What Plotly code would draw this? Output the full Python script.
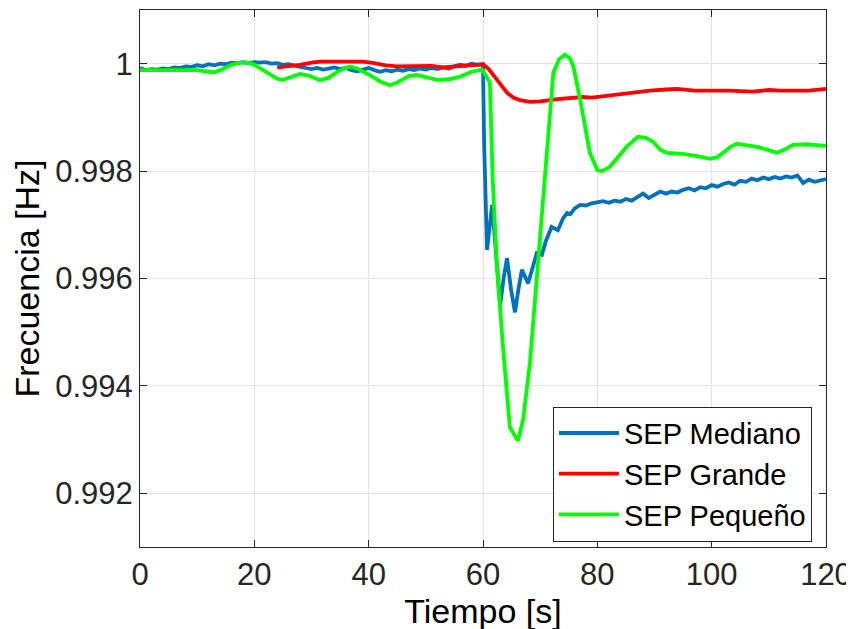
import plotly.graph_objects as go

# --- SEP Mediano (blue) ---
t_med = [0, 1, 2, 3, 4, 5, 6, 7, 8, 9, 10, 11, 12, 13, 14, 15, 16, 17, 18, 19,
         20, 21, 22, 23, 24, 25, 26, 27, 28, 29, 30, 31, 32, 33, 34, 35, 36, 37, 38, 39,
         40, 41, 42, 43, 44, 45, 46, 47, 48, 49, 50, 51, 52, 53, 54, 55, 56, 57, 58, 59,
         60, 60.2, 60.7, 61.6, 62.3, 63, 63.6, 64.2, 64.9, 65.6, 66.2, 66.8, 67.9, 68.6, 69.4,
         70.3, 71, 72, 73.1, 74, 74.7, 75.3, 76, 77, 78, 79, 80, 81, 82, 83, 84, 85, 86, 87,
         88, 89, 90, 91, 92, 93, 94, 95, 96, 97, 98, 99, 100, 101, 102, 103, 104, 105, 106,
         107, 108, 109, 110, 111, 112, 113, 114, 115, 116, 117, 118, 119, 120]
f_med = [0.99992, 0.99988, 0.99990, 0.99989, 0.99991, 0.99990, 0.99993, 0.99992, 0.99995, 0.99994,
         0.99997, 0.99995, 0.99999, 0.99997, 1.00000, 0.99999, 1.00002, 1.00001, 1.00003, 1.00001,
         1.00003, 1.00002, 1.00003, 1.00000, 1.00001, 0.99998, 0.99999, 0.99996, 0.99994, 0.99992,
         0.99990, 0.99992, 0.99989, 0.99991, 0.99993, 0.99990, 0.99992, 0.99988, 0.99986, 0.99989,
         0.99992, 0.99988, 0.99985, 0.99988, 0.99986, 0.99989, 0.99987, 0.99990, 0.99988, 0.99991,
         0.99989, 0.99992, 0.99990, 0.99993, 0.99991, 0.99995, 0.99998, 0.99996, 1.00000, 0.99998,
         0.99999, 0.99850, 0.99653, 0.99737, 0.99640, 0.99550, 0.99600, 0.99638, 0.99580, 0.99537,
         0.99580, 0.99616, 0.99591, 0.99620, 0.99647, 0.99644, 0.99670, 0.99696, 0.99690, 0.99712,
         0.99722, 0.99720, 0.99730, 0.99737, 0.99736, 0.99740, 0.99742, 0.99744, 0.99741, 0.99745,
         0.99743, 0.99748, 0.99745, 0.99752, 0.99758, 0.99750, 0.99756, 0.99762, 0.99758, 0.99762,
         0.99760, 0.99765, 0.99768, 0.99764, 0.99770, 0.99768, 0.99774, 0.99771, 0.99776, 0.99779,
         0.99775, 0.99782, 0.99780, 0.99786, 0.99783, 0.99788, 0.99785, 0.99789, 0.99786, 0.99790,
         0.99788, 0.99792, 0.99778, 0.99784, 0.99780, 0.99783, 0.99785]

# --- SEP Grande (red) ---
t_gra = [24, 26, 28, 30, 31.5, 35, 39, 41, 43, 45, 48, 51, 53, 55, 57.7, 60, 61, 62.5, 64.2,
         65.3, 66.5, 68.2, 70, 73, 75, 77.5, 79, 81, 84.5, 87, 89.2, 92, 94, 97, 99.7, 103,
         107.2, 110, 112, 115, 117, 120]
f_gra = [0.99993, 0.99995, 0.99998, 1.00002, 1.00004, 1.00004, 1.00004, 1.00001, 0.99997, 0.99995,
         0.99995, 0.99996, 0.99993, 0.99995, 0.99998, 0.99999, 0.99990, 0.99968, 0.99946, 0.99937,
         0.99932, 0.99929, 0.99930, 0.99934, 0.99936, 0.99938, 0.99937, 0.99939, 0.99944, 0.99947,
         0.99950, 0.99952, 0.99953, 0.99950, 0.99950, 0.99950, 0.99948, 0.99951, 0.99950, 0.99951,
         0.99950, 0.99953]

# --- SEP Pequeño (green) ---
t_peq = [0, 2, 4, 6, 8, 10, 12, 13, 14, 16, 17.5, 19, 20, 22, 24, 25, 26.5, 28, 29.5, 31.5,
         33, 35, 36.7, 38, 40, 42, 43.7, 45, 47, 48.4, 50, 52, 54, 56, 58, 59.8, 60.5, 61.2,
         61.7, 62.4, 63.5, 64.7, 66.1, 67, 68.2, 69.4, 71, 72.3, 73.3, 74.3, 75.2, 75.8, 77,
         78.7, 80, 80.8, 82.2, 83.7, 85.1, 87.1, 88.5, 89.7, 91, 92.2, 95, 97.5, 99.7, 101,
         102, 103.3, 104.4, 106, 107.9, 109.7, 111.4, 112.8, 114.2, 116.5, 118, 120]
f_peq = [0.99988, 0.99988, 0.99988, 0.99988, 0.99987, 0.99988, 0.99985, 0.99984, 0.99988, 0.99998,
         1.00002, 1.00002, 0.99998, 0.99985, 0.99972, 0.99970, 0.99975, 0.99981, 0.99978, 0.99969,
         0.99974, 0.99988, 0.99995, 0.99991, 0.99980, 0.99967, 0.99960, 0.99965, 0.99977, 0.99979,
         0.99975, 0.99970, 0.99971, 0.99976, 0.99985, 0.99989, 0.99978, 0.99965, 0.99784, 0.99629,
         0.99472, 0.99323, 0.99298, 0.99336, 0.99442, 0.99597, 0.99800, 0.99983, 1.00008, 1.00017,
         1.00010, 0.99995, 0.99933, 0.99834, 0.99802, 0.99800, 0.99808, 0.99826, 0.99845, 0.99864,
         0.99862, 0.99855, 0.99840, 0.99834, 0.99832, 0.99828, 0.99823, 0.99826, 0.99834, 0.99845,
         0.99851, 0.99849, 0.99845, 0.99840, 0.99834, 0.99840, 0.99849, 0.99850, 0.99848, 0.99847]

x_ticks = [0, 20, 40, 60, 80, 100, 120]
y_ticks = [0.992, 0.994, 0.996, 0.998, 1.0]
y_tick_labels = ["0.992", "0.994", "0.996", "0.998", "1"]

FONT = "Liberation Sans, Arial, sans-serif"

fig = go.Figure()
fig.add_trace(go.Scatter(x=t_med, y=f_med, mode="lines", name="SEP Mediano",
                         line=dict(color="#0072BD", width=3.8)))
fig.add_trace(go.Scatter(x=t_gra, y=f_gra, mode="lines", name="SEP Grande",
                         line=dict(color="#FF0000", width=3.8)))
fig.add_trace(go.Scatter(x=t_peq, y=f_peq, mode="lines", name="SEP Pequeño",
                         line=dict(color="#00FF00", width=3.8)))

axis_common = dict(showgrid=True, gridcolor="#e3e3e3", gridwidth=1,
                   showline=True, linecolor="#262626", linewidth=1, mirror="ticks",
                   ticks="inside", ticklen=7, tickcolor="#262626", zeroline=False,
                   tickfont=dict(family=FONT, size=31, color="#262626"))

fig.update_layout(
    width=854, height=629,
    paper_bgcolor="white", plot_bgcolor="white",
    margin=dict(l=132, r=36, t=2, b=90),
    font=dict(family=FONT, color="#262626"),
    xaxis=dict(range=[0, 120], tickvals=x_ticks,
               title=dict(text="Tiempo [s]", font=dict(family=FONT, size=34, color="#000000"), standoff=0),
               **axis_common),
    yaxis=dict(range=[0.991, 1.001], tickvals=y_ticks, ticktext=y_tick_labels,
               title=dict(text="Frecuencia [Hz]", font=dict(family=FONT, size=34, color="#000000"), standoff=6),
               **axis_common),
    legend=dict(x=0.602, y=0.01, xanchor="left", yanchor="bottom",
                bgcolor="white", bordercolor="#262626", borderwidth=1,
                font=dict(family=FONT, size=29, color="#000000"),
                itemwidth=60, tracegroupgap=0),
    showlegend=True,
)

fig.write_html("out.html")
